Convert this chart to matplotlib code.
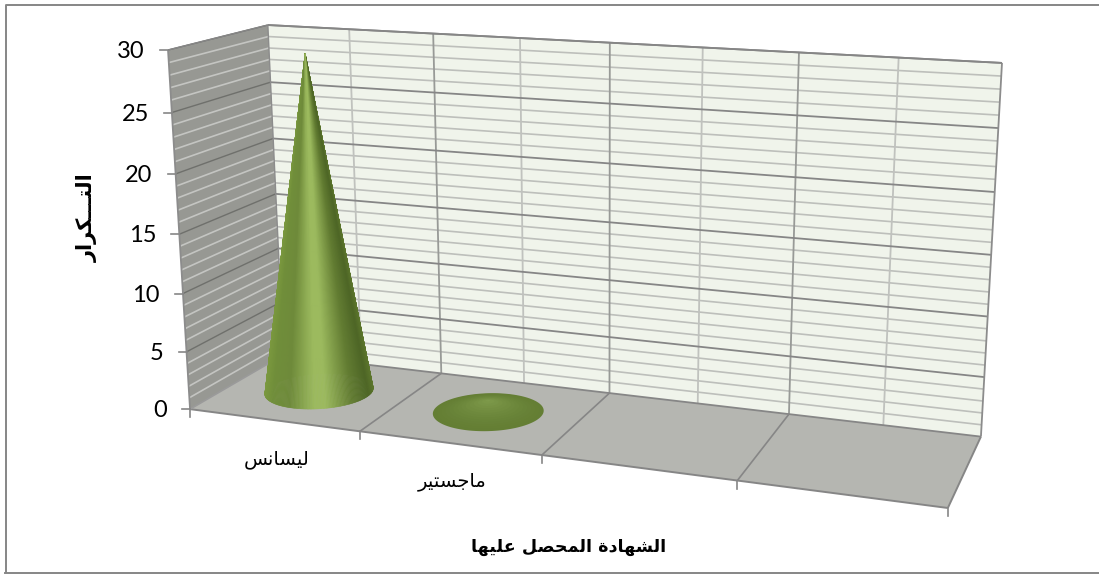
import numpy as np
import matplotlib
matplotlib.use('Agg')
import matplotlib.pyplot as plt
from matplotlib.patches import Polygon

# data
categories = ['ليسانس', 'ماجستير', '', '']
values = [29, 1, 0, 0]
y_ticks = [0, 5, 10, 15, 20, 25, 30]
x_title = 'الشهادة المحصل عليها'
y_title = 'التـــكرار'

# Arabic presentation forms (isolated, final, initial, medial), matplotlib does no shaping
forms = {
    'ا': (0xFE8D, 0xFE8E), 'د': (0xFEA9, 0xFEAA), 'ر': (0xFEAD, 0xFEAE), 'ة': (0xFE93, 0xFE94),
    'ل': (0xFEDD, 0xFEDE, 0xFEDF, 0xFEE0), 'ي': (0xFEF1, 0xFEF2, 0xFEF3, 0xFEF4),
    'س': (0xFEB1, 0xFEB2, 0xFEB3, 0xFEB4), 'ن': (0xFEE5, 0xFEE6, 0xFEE7, 0xFEE8),
    'م': (0xFEE1, 0xFEE2, 0xFEE3, 0xFEE4), 'ج': (0xFE9D, 0xFE9E, 0xFE9F, 0xFEA0),
    'ت': (0xFE95, 0xFE96, 0xFE97, 0xFE98), 'ش': (0xFEB5, 0xFEB6, 0xFEB7, 0xFEB8),
    'ه': (0xFEE9, 0xFEEA, 0xFEEB, 0xFEEC), 'ح': (0xFEA1, 0xFEA2, 0xFEA3, 0xFEA4),
    'ص': (0xFEB9, 0xFEBA, 0xFEBB, 0xFEBC), 'ع': (0xFEC9, 0xFECA, 0xFECB, 0xFECC),
    'ك': (0xFED9, 0xFEDA, 0xFEDB, 0xFEDC),
}


def joins_next(c):
    return c == 'ـ' or (c in forms and len(forms[c]) == 4)


def shape(text):
    out = []
    for i, c in enumerate(text):
        if c not in forms:
            out.append(c)
            continue
        prev_join = i > 0 and joins_next(text[i - 1])
        next_join = i < len(text) - 1 and (text[i + 1] in forms or text[i + 1] == 'ـ') and joins_next(c)
        f = forms[c]
        if prev_join and next_join:
            out.append(chr(f[3]))
        elif next_join:
            out.append(chr(f[2]))
        elif prev_join:
            out.append(chr(f[1]))
        else:
            out.append(chr(f[0]))
    return ''.join(out)[::-1]


# camera fitted on the corners of the box: (category, depth, value) -> pixel
n_cat = len(categories)
z_max = y_ticks[-1]
anchors = [
    ((0, 0, 0), (190, 408)), ((1, 0, 0), (360, 433)), ((2, 0, 0), (542, 455)),
    ((3, 0, 0), (737, 480)), ((4, 0, 0), (948, 508)),
    ((0, 1, 0), (284, 356)), ((1, 1, 0), (440, 373)), ((2, 1, 0), (610, 392)),
    ((3, 1, 0), (789, 414)), ((4, 1, 0), (981, 437)),
    ((0, 0, 30), (168, 50)), ((0, 1, 30), (268, 25)), ((1, 1, 30), (433, 33)),
    ((3, 1, 30), (799, 53)), ((4, 1, 30), (1002, 63)),
]
rows = []
for (X, Y, Z), (u, v) in anchors:
    rows.append([X, Y, Z, 1, 0, 0, 0, 0, -u * X, -u * Y, -u * Z, -u])
    rows.append([0, 0, 0, 0, X, Y, Z, 1, -v * X, -v * Y, -v * Z, -v])
P = np.linalg.svd(np.array(rows, float))[2][-1].reshape(3, 4)


def proj(x, d, z):
    x, d, z = np.broadcast_arrays(np.asarray(x, float), np.asarray(d, float), np.asarray(z, float))
    h = P @ np.stack([x.ravel(), d.ravel(), z.ravel(), np.ones(x.size)])
    return np.stack([h[0] / h[2], h[1] / h[2]], axis=1)


fig = plt.figure(figsize=(10.99, 5.74), dpi=100)
ax = fig.add_axes([0, 0, 1, 1])
ax.set_xlim(0, 1099)
ax.set_ylim(574, 0)
ax.axis('off')

# chart frame
ax.plot([6, 6, 1099], [572, 5, 5], color='#868686', lw=1.4, zorder=1)
ax.plot([5, 1099], [572.5, 572.5], color='#868686', lw=1.4, zorder=1)


def line(a, b, color, lw, zorder=3):
    pts = proj([a[0], b[0]], [a[1], b[1]], [a[2], b[2]])
    ax.plot(pts[:, 0], pts[:, 1], color=color, lw=lw, zorder=zorder, solid_capstyle='butt')


# walls and floor
ax.add_patch(Polygon(proj([0, n_cat, n_cat, 0], 1, [0, 0, z_max, z_max]), fc='#F0F4EB', ec='none', zorder=2))
ax.add_patch(Polygon(proj(0, [0, 1, 1, 0], [0, 0, z_max, z_max]), fc='#979893', ec='none', zorder=2))
ax.add_patch(Polygon(proj([0, n_cat, n_cat, 0], [0, 0, 1, 1], 0), fc='#B5B6B1', ec='none', zorder=2))

# horizontal grid lines, light every unit and dark every 5
for z in range(0, z_max + 1):
    if z % 5:
        line((0, 1, z), (n_cat, 1, z), '#BDBFBB', 1.2)
        line((0, 0, z), (0, 1, z), '#C4C5C2', 1.2)
# vertical grid lines on the back wall
for i in range(n_cat):
    line((i + 0.5, 1, 0), (i + 0.5, 1, z_max), '#C0C2BE', 1.3)
for i in range(1, n_cat):
    line((i, 1, 0), (i, 1, z_max), '#989A97', 1.3)
    line((i, 0, 0), (i, 1, 0), '#868686', 1.2)
for z in y_ticks:
    line((0, 1, z), (n_cat, 1, z), '#868686', 1.3)
    if z > 0:
        line((0, 0, z), (0, 1, z), '#6F706C', 1.0)

# box edges
line((n_cat, 1, 0), (n_cat, 1, z_max), '#8C8C8C', 1.3)
line((0, 1, 0), (0, 1, z_max), '#8C8C8C', 1.0)
line((0, 0, 0), (0, 0, z_max), '#8C8C8C', 1.3)
line((0, 0, 0), (n_cat, 0, 0), '#868686', 1.4)
line((n_cat, 0, 0), (n_cat, 1, 0), '#868686', 1.4)
line((0, 0, 0), (0, 1, 0), '#9A9A9A', 1.2)
line((0, 1, z_max), (n_cat, 1, z_max), '#868686', 1.3)
line((0, 0, z_max), (0, 1, z_max), '#868686', 1.0)

# ticks
for z in y_ticks:
    p = proj(0, 0, z)[0]
    ax.plot([p[0] - 8, p[0]], [p[1], p[1]], color='#868686', lw=1.2, zorder=3)
    ax.text(p[0] - 23, p[1] + 1.5, str(z), ha='right', va='center', fontsize=17, family='Lato', color='black')
for i in range(n_cat + 1):
    p = proj(i, 0, 0)[0]
    ax.plot([p[0], p[0]], [p[1], p[1] + 8], color='#868686', lw=1.2, zorder=3)

# cones
stops_u = [-1, -0.85, -0.55, -0.1, 0.1, 0.6, 0.9, 1]
stops_rgb = np.array([[122, 152, 62], [112, 142, 58], [110, 138, 58], [156, 186, 94], [156, 186, 94],
                      [98, 124, 50], [78, 102, 38], [92, 118, 44]], float)
r_x, r_d = 0.29, 0.30
edge_rgb = np.array([100, 126, 52], float)
mid_rgb = np.array([128, 156, 76], float)
for i, v in enumerate(values):
    if v <= 0:
        continue
    t = np.radians(np.arange(0, 360, 1.5))
    base_t = proj(i + 0.5 + r_x * np.cos(t), 0.5 + r_d * np.sin(t), 0)
    tip = proj(i + 0.5, 0.5, v)[0]
    if v < 5:
        # nearly flat cone seen from above, lighter towards the tip
        for s in np.linspace(1, 0.04, 14):
            rgb = edge_rgb + (mid_rgb - edge_rgb) * (1 - s) ** 1.5
            ax.add_patch(Polygon(tip + (base_t - tip) * s, fc=rgb / 255, ec='none', zorder=4))
        continue
    cx = (base_t[:, 0].min() + base_t[:, 0].max()) / 2
    half = (base_t[:, 0].max() - base_t[:, 0].min()) / 2
    order = np.argsort(base_t[:, 1])  # back strips first
    for j in order:
        a, b = base_t[j], base_t[(j + 1) % len(t)]
        u = (a[0] - cx) / half
        rgb = np.array([np.interp(u, stops_u, stops_rgb[:, c]) for c in range(3)])
        ax.add_patch(Polygon([a, b, tip], fc=rgb / 255, ec=rgb / 255, lw=0.4, zorder=4))

# labels
arabic = ['DejaVu Sans']
for i, name in enumerate(categories):
    if name:
        p = proj(i + 0.5, 0, 0)[0]
        ax.text(p[0] + 3, p[1] + 39, shape(name), ha='center', va='center', fontsize=14, family=arabic, color='black')
ax.text(569, 547, shape(x_title), ha='center', va='center', fontsize=12.6, fontweight='bold', family=arabic, color='black')
ax.text(87, 218, shape(y_title), ha='center', va='center', rotation=90, fontsize=15, fontweight='bold', family=arabic, color='black')

fig.savefig('out.png', dpi=100)
